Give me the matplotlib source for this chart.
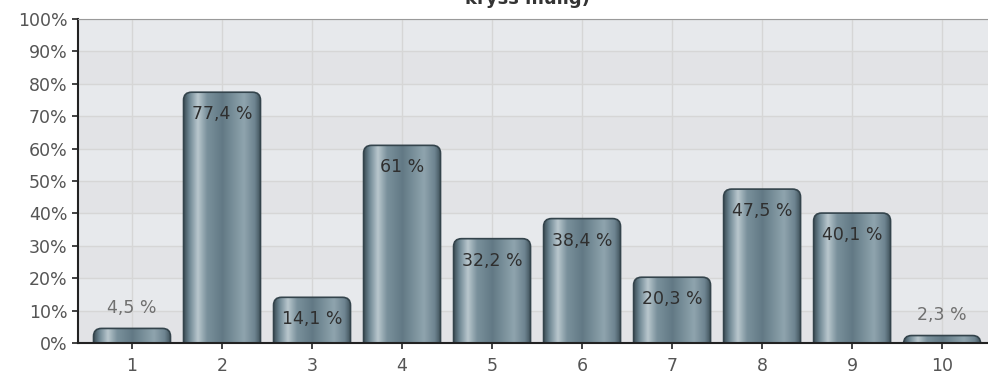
import numpy as np
import matplotlib.pyplot as plt
from matplotlib.patches import FancyBboxPatch
from matplotlib.colors import LinearSegmentedColormap

categories = [1, 2, 3, 4, 5, 6, 7, 8, 9, 10]
values = [4.5, 77.4, 14.1, 61.0, 32.2, 38.4, 20.3, 47.5, 40.1, 2.3]
labels = ["4,5 %", "77,4 %", "14,1 %", "61 %", "32,2 %", "38,4 %",
          "20,3 %", "47,5 %", "40,1 %", "2,3 %"]
yticks = list(range(0, 101, 10))

W, H = 988, 378
fig = plt.figure(figsize=(W / 100, H / 100), dpi=100)
ax = fig.add_axes([78 / W, 1 - 343 / H, 910 / W, 324 / H])

ax.set_xlim(0.4, 10.51)
ax.set_ylim(0, 100)

# alternating background bands
ax.set_facecolor("#e6e8eb")
for i, y0 in enumerate(yticks[:-1]):
    ax.axhspan(y0, y0 + 10, color="#e7e9ec" if i % 2 == 1 else "#e2e3e6", zorder=0, lw=0)
for y in yticks[1:]:
    ax.axhline(y, color="#d6d6d6", lw=1, zorder=0.5)
for x in categories:
    ax.axvline(x, color="#d6d6d6", lw=1, zorder=0.5)

# cylinder-like gradient
cmap = LinearSegmentedColormap.from_list("cyl", [
    (0.0, "#3f515a"), (0.07, "#6f8793"), (0.18, "#b9c7cd"), (0.3, "#7a919c"),
    (0.5, "#62798586"[:7]), (0.78, "#8fa4ae"), (0.92, "#6e8490"), (1.0, "#3f515a")])
grad = np.linspace(0, 1, 256).reshape(1, -1)

bar_w = 0.855
px_x = 910 / (10.51 - 0.4)
px_y = 324 / 100
for x, v in zip(categories, values):
    x0 = x - bar_w / 2
    r_px = 8
    patch = FancyBboxPatch((x0, -4), bar_w, v + 4,
                           boxstyle=f"round,pad=0,rounding_size={r_px / px_x}",
                           mutation_aspect=px_x / px_y,
                           facecolor="none", edgecolor="#34444c", lw=1.2, zorder=3)
    ax.add_patch(patch)
    im = ax.imshow(grad, cmap=cmap, aspect="auto", extent=(x0, x0 + bar_w, -4, v),
                   zorder=2, interpolation="bilinear")
    im.set_clip_path(patch)

ax.set_xlim(0.4, 10.51)
ax.set_ylim(0, 100)

for x, v, lab in zip(categories, values, labels):
    if v < 10:
        ax.text(x, v + 6.3, lab, ha="center", va="center", fontsize=12.5, color="#707070", zorder=4)
    else:
        ax.text(x, v - 4.0, lab, ha="center", va="top", fontsize=12.5, color="#2f2f2f", zorder=4)

ax.set_xticks(categories)
ax.set_xticklabels([str(c) for c in categories])
ax.set_yticks(yticks)
ax.set_yticklabels([f"{t}%" for t in yticks])
ax.tick_params(axis="both", colors="#222222", labelcolor="#555555", labelsize=12.5,
               direction="out", length=4, width=1.2)
ax.tick_params(axis="x", pad=6)
ax.spines["left"].set_color("#222222")
ax.spines["left"].set_linewidth(1.5)
ax.spines["bottom"].set_color("#222222")
ax.spines["bottom"].set_linewidth(1.5)
ax.spines["top"].set_color("#9a9a9a")
ax.spines["right"].set_visible(False)
for sp in ax.spines.values():
    sp.set_zorder(5)

fig.text(527 / W, 1 - 4 / H, "kryss mulig)", ha="center", va="baseline",
         fontsize=13, color="#333333", fontweight="bold")

fig.savefig("out.png", dpi=100)
